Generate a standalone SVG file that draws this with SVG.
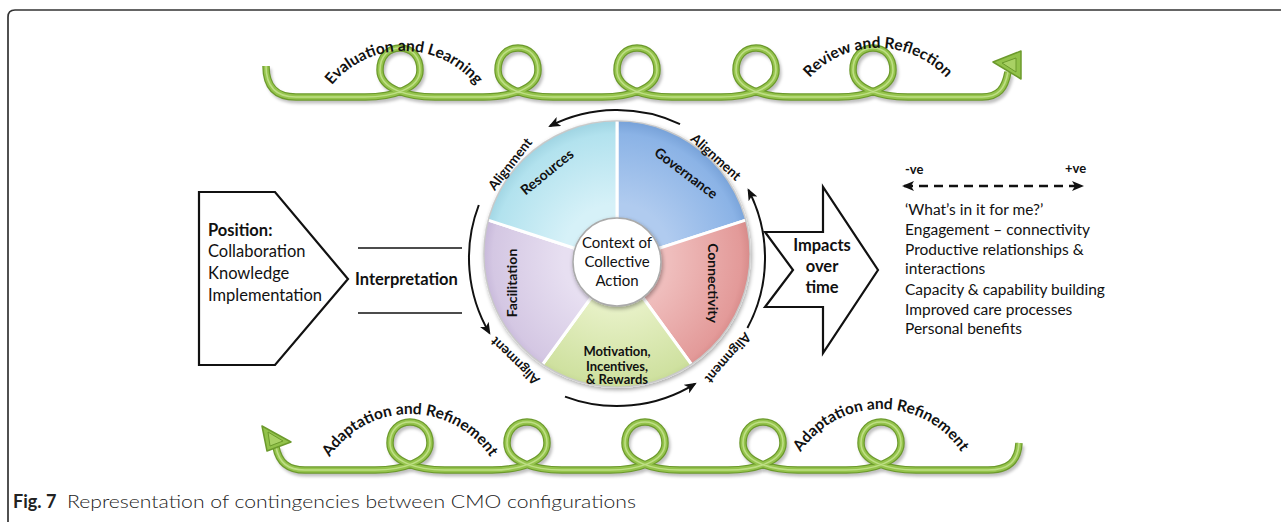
<svg xmlns="http://www.w3.org/2000/svg" width="1281" height="522" viewBox="0 0 1281 522">
<style>
  text { font-family: Lato, "Liberation Sans", sans-serif; fill: #111; }
  .b { font-weight: bold; }
  .arc { font-size: 15.5px; font-weight: bold; }
  .seg { font-size: 14px; font-weight: bold; }
  .al { font-size: 13.5px; font-weight: bold; }
  .lst { font-size: 15.5px; }
  .pos { font-size: 16.5px; }
  .ln { stroke: #111; stroke-width: 1.5; fill: none; }
  .blk { stroke: #111; stroke-width: 2.2; fill: #fff; stroke-linejoin: miter; }
  .cyc { stroke: #111; stroke-width: 2; fill: none; marker-end: url(#ah); }
  .tubeS { fill: none; stroke: #000; stroke-opacity: 0.25; stroke-width: 7; filter: url(#blur); }
  .tubeO { fill: none; stroke: #6c9a2c; stroke-width: 7.5; stroke-linecap: butt; }
  .tubeM { fill: none; stroke: #95c44c; stroke-width: 5; }
  .tubeH { fill: none; stroke: #c6e38f; stroke-width: 1.6; stroke-opacity: 0.85; }
  .wedge { stroke: #fff; stroke-width: 3; }
</style>
<defs>
  <filter id="blur" x="-5%" y="-30%" width="110%" height="160%"><feGaussianBlur stdDeviation="1.6"/></filter>
  <filter id="shd" x="-20%" y="-20%" width="140%" height="140%"><feGaussianBlur in="SourceAlpha" stdDeviation="2"/><feOffset dx="1" dy="2"/><feComponentTransfer><feFuncA type="linear" slope="0.35"/></feComponentTransfer><feMerge><feMergeNode/><feMergeNode in="SourceGraphic"/></feMerge></filter>
  <marker id="ah" viewBox="0 0 12 10" refX="10" refY="5" markerWidth="12" markerHeight="10" markerUnits="userSpaceOnUse" orient="auto"><path d="M0,0 L12,5 L0,10 L3,5 z" fill="#111"/></marker>
  <marker id="ahd" viewBox="0 0 12 10" refX="10" refY="5" markerWidth="12" markerHeight="10" markerUnits="userSpaceOnUse" orient="auto-start-reverse"><path d="M0,0 L12,5 L0,10 L3,5 z" fill="#111"/></marker>
  <clipPath id="wheelClip"><circle cx="617" cy="254" r="133"/></clipPath>
  <radialGradient id="gRes" gradientUnits="userSpaceOnUse" cx="617" cy="258" r="135"><stop offset="0.4" stop-color="#d6f1f8"/><stop offset="0.92" stop-color="#b2e2ee"/><stop offset="1" stop-color="#a2d6e4"/></radialGradient>
  <radialGradient id="gGov" gradientUnits="userSpaceOnUse" cx="617" cy="258" r="135"><stop offset="0.4" stop-color="#b0cbef"/><stop offset="0.92" stop-color="#8bb3e6"/><stop offset="1" stop-color="#7aa4da"/></radialGradient>
  <radialGradient id="gCon" gradientUnits="userSpaceOnUse" cx="617" cy="258" r="135"><stop offset="0.4" stop-color="#efbdbc"/><stop offset="0.92" stop-color="#e39a99"/><stop offset="1" stop-color="#d58887"/></radialGradient>
  <radialGradient id="gMot" gradientUnits="userSpaceOnUse" cx="617" cy="258" r="135"><stop offset="0.4" stop-color="#e6f0c5"/><stop offset="0.92" stop-color="#cfe1a0"/><stop offset="1" stop-color="#c0d48e"/></radialGradient>
  <radialGradient id="gFac" gradientUnits="userSpaceOnUse" cx="617" cy="258" r="135"><stop offset="0.4" stop-color="#e7dff1"/><stop offset="0.92" stop-color="#d4c7e3"/><stop offset="1" stop-color="#c5b6d8"/></radialGradient>
  <path id="arcTL" d="M 311 144 A 93 93 0 0 1 497 144"/>
  <path id="arcTR" d="M 785 141 A 93 93 0 0 1 971 141"/>
  <path id="arcBL" d="M 314 510 A 96 96 0 0 1 506 510"/>
  <path id="arcBR" d="M 785 505 A 96 96 0 0 1 977 505"/>
  <path id="topTube" d="M 266 66 C 266 87 276 97 296 97 L 365 97 C 392 97 420 89 420 70 C 420 56 411 48 400 48 C 389 48 380 56 380 70 C 380 89 408 97 435 97 L 483 97 C 510 97 538 89 538 70 C 538 56 529 48 518 48 C 507 48 498 56 498 70 C 498 89 526 97 553 97 L 602 97 C 629 97 657 89 657 70 C 657 56 648 48 637 48 C 626 48 617 56 617 70 C 617 89 645 97 672 97 L 721 97 C 748 97 776 89 776 70 C 776 56 767 48 756 48 C 745 48 736 56 736 70 C 736 89 764 97 791 97 L 838 97 C 865 97 893 89 893 70 C 893 56 884 48 873 48 C 862 48 853 56 853 70 C 853 89 881 97 908 97 L 982 97 C 999 97 1005 88 1008 72"/>
  <path id="botTube" d="M 276 447 C 279 463 288 470 305 470 L 375 470 C 402 470 430 462 430 443 C 430 430 421 422 410 422 C 399 422 390 430 390 443 C 390 462 418 470 445 470 L 492 470 C 519 470 547 462 547 443 C 547 430 538 422 527 422 C 516 422 507 430 507 443 C 507 462 535 470 562 470 L 610 470 C 637 470 665 462 665 443 C 665 430 656 422 645 422 C 634 422 625 430 625 443 C 625 462 653 470 680 470 L 728 470 C 755 470 783 462 783 443 C 783 430 774 422 763 422 C 752 422 743 430 743 443 C 743 462 771 470 798 470 L 846 470 C 873 470 901 462 901 443 C 901 430 892 422 881 422 C 870 422 861 430 861 443 C 861 462 889 470 916 470 L 988 470 C 1008 470 1018 462 1019 443"/>
</defs>

<rect width="1281" height="522" fill="#fff"/>
<!-- frame -->
<path d="M 8 522 L 8 17 Q 8 10 15 10 L 1281 10" fill="none" stroke="#333" stroke-width="1.7"/>

<!-- top cycle -->
<g id="topLoop">
  <use href="#topTube" class="tubeS" transform="translate(2,3)"/>
  <use href="#topTube" class="tubeO"/>
  <use href="#topTube" class="tubeM"/>
  <use href="#topTube" class="tubeH"/>
  <polygon points="993,62 1021,51 1021,79" fill="#92c24a" stroke="#6c9a2c" stroke-width="1.5" stroke-linejoin="round"/>
  <polygon points="1002,63 1016,58 1016,72" fill="#a9d164" stroke="#6c9a2c" stroke-width="1"/>
  <text class="arc"><textPath href="#arcTL" startOffset="50%" text-anchor="middle">Evaluation and Learning</textPath></text>
  <text class="arc"><textPath href="#arcTR" startOffset="50%" text-anchor="middle">Review and Reflection</textPath></text>
</g>

<!-- bottom cycle -->
<g id="bottomLoop">
  <use href="#botTube" class="tubeS" transform="translate(2,3)"/>
  <use href="#botTube" class="tubeO"/>
  <use href="#botTube" class="tubeM"/>
  <use href="#botTube" class="tubeH"/>
  <polygon points="262,426 291,442 267,451" fill="#92c24a" stroke="#6c9a2c" stroke-width="1.5" stroke-linejoin="round"/>
  <polygon points="268,432 283,441 270,446" fill="#a9d164" stroke="#6c9a2c" stroke-width="1"/>
  <text class="arc"><textPath href="#arcBL" startOffset="50%" text-anchor="middle">Adaptation and Refinement</textPath></text>
  <text class="arc"><textPath href="#arcBR" startOffset="50%" text-anchor="middle">Adaptation and Refinement</textPath></text>
</g>

<!-- position pentagon -->
<g id="position">
  <polygon class="blk" points="199,192 275,192 348,279 275,365 199,365"/>
  <text class="pos b" x="208" y="236">Position:</text>
  <text class="pos" x="208" y="257">Collaboration</text>
  <text class="pos" x="208" y="279">Knowledge</text>
  <text class="pos" x="208" y="301">Implementation</text>
</g>

<!-- interpretation -->
<g id="interpretation">
  <line class="ln" x1="358" y1="248" x2="462" y2="248"/>
  <line class="ln" x1="358" y1="313" x2="462" y2="313"/>
  <text class="pos b" x="355" y="285">Interpretation</text>
</g>

<!-- wheel -->
<g id="wheel">
  <circle cx="617" cy="254" r="134" fill="#ddd" filter="url(#shd)"/>
  <g clip-path="url(#wheelClip)">
    <polygon id="seg-governance" class="wedge" fill="url(#gGov)" points="617,262 617,62 807.2,200.2"/>
    <polygon id="seg-connectivity" class="wedge" fill="url(#gCon)" points="617,262 807.2,200.2 734.6,423.8"/>
    <polygon id="seg-motivation" class="wedge" fill="url(#gMot)" points="617,262 734.6,423.8 499.4,423.8"/>
    <polygon id="seg-facilitation" class="wedge" fill="url(#gFac)" points="617,262 499.4,423.8 426.8,200.2"/>
    <polygon id="seg-resources" class="wedge" fill="url(#gRes)" points="617,262 426.8,200.2 617,62"/>
  </g>
  <circle cx="617" cy="254" r="133" fill="none" stroke="#c8c8c8" stroke-width="1.2"/>
  <text class="seg" transform="translate(547,172) rotate(-39)" text-anchor="middle" dy="0.35em">Resources</text>
  <text class="seg" transform="translate(686,173) rotate(37)" text-anchor="middle" dy="0.35em">Governance</text>
  <text class="seg" transform="translate(713,283) rotate(90)" text-anchor="middle" dy="0.35em">Connectivity</text>
  <text class="seg" transform="translate(512,283) rotate(-90)" text-anchor="middle" dy="0.35em">Facilitation</text>
  <text class="seg" x="617" y="356" text-anchor="middle" style="font-size:13px">Motivation,</text>
  <text class="seg" x="617" y="370.5" text-anchor="middle" style="font-size:13px">Incentives,</text>
  <text class="seg" x="617" y="384" text-anchor="middle" style="font-size:13px">&amp; Rewards</text>
</g>

<g id="context">
  <circle cx="617" cy="262" r="44" fill="#fff" stroke="#aaa" stroke-width="1.5" filter="url(#shd)"/>
  <text x="617" y="248" text-anchor="middle" style="font-size:15px">Context of</text>
  <text x="617" y="267" text-anchor="middle" style="font-size:15px">Collective</text>
  <text x="617" y="286" text-anchor="middle" style="font-size:15px">Action</text>
</g>

<!-- cycle arrows -->
<g id="connectors">
  <path class="cyc" d="M 680 124.1 A 148 148 0 0 0 550 126"/>
  <path class="cyc" d="M 478.8 205 A 148 148 0 0 0 489.4 333"/>
  <path class="cyc" d="M 565 396.6 A 148 148 0 0 0 695 383.8"/>
  <path class="cyc" d="M 747.4 328 A 148 148 0 0 0 748.5 190"/>
</g>

<g id="alignments">
  <text class="al" transform="translate(510,164) rotate(-52)" text-anchor="middle" dy="0.35em">Alignment</text>
  <text class="al" transform="translate(716,157) rotate(42)" text-anchor="middle" dy="0.35em">Alignment</text>
  <text class="al" transform="translate(728,358) rotate(131)" text-anchor="middle" dy="0.35em">Alignment</text>
  <text class="al" transform="translate(515,361) rotate(224)" text-anchor="middle" dy="0.35em">Alignment</text>
</g>

<!-- impacts arrow -->
<g id="impacts">
  <polygon class="blk" points="765,232 823,232 823,187 878,270 823,353 823,307 765,307 793,270"/>
  <text class="b" x="822" y="251" text-anchor="middle" style="font-size:16.5px">Impacts</text>
  <text class="b" x="822" y="272" text-anchor="middle" style="font-size:16.5px">over</text>
  <text class="b" x="822" y="293" text-anchor="middle" style="font-size:16.5px">time</text>
</g>

<!-- outcomes -->
<g id="outcomes">
  <text class="b" x="905" y="174" style="font-size:13px">-ve</text>
  <text class="b" x="1065" y="173" style="font-size:13px">+ve</text>
  <line x1="904" y1="186" x2="1082" y2="186" stroke="#111" stroke-width="2.5" stroke-dasharray="9,6" marker-start="url(#ahd)" marker-end="url(#ahd)"/>
  <text class="lst" x="905" y="215">‘What’s in it for me?’</text>
  <text class="lst" x="905" y="235">Engagement – connectivity</text>
  <text class="lst" x="905" y="255">Productive relationships &amp;</text>
  <text class="lst" x="905" y="274">interactions</text>
  <text class="lst" x="905" y="295">Capacity &amp; capability building</text>
  <text class="lst" x="905" y="315">Improved care processes</text>
  <text class="lst" x="905" y="334">Personal benefits</text>
</g>

<!-- caption -->
<g id="caption">
  <text class="b" x="13" y="508" style="font-size:18px;fill:#222">Fig. 7</text>
  <text x="67" y="508" style="font-size:18px;font-weight:300;fill:#222" textLength="569" lengthAdjust="spacingAndGlyphs">Representation of contingencies between CMO configurations</text>
</g>
</svg>
